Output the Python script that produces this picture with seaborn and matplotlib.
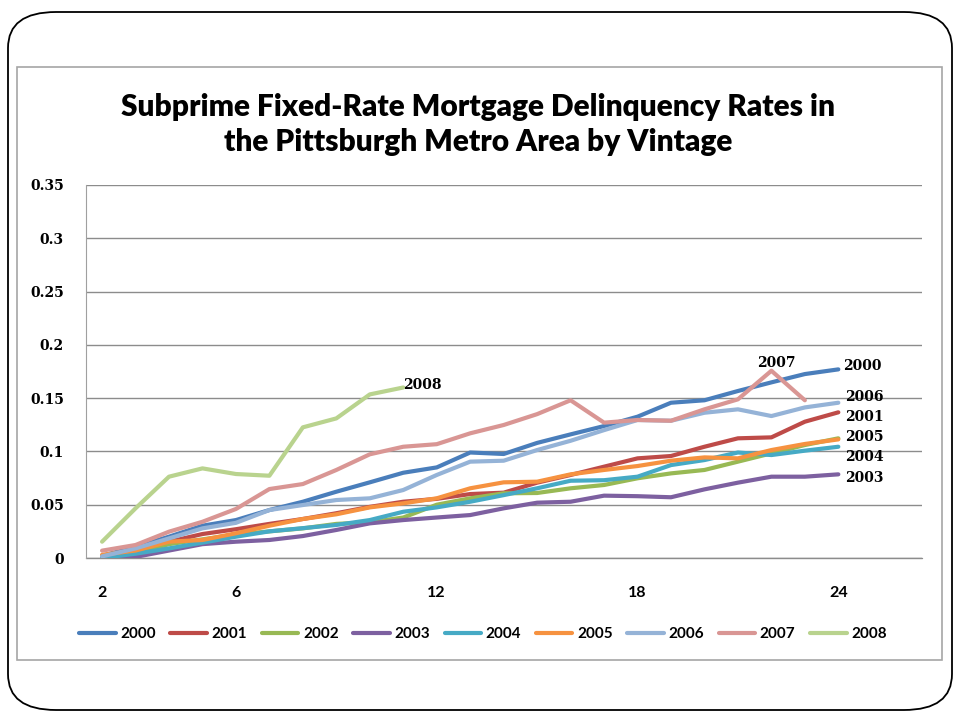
import numpy as np
import pandas as pd
import matplotlib
matplotlib.use("Agg")
import matplotlib.pyplot as plt
import seaborn as sns
from matplotlib.patches import FancyBboxPatch, Rectangle

# Data (months since origination 2..24)
months = list(range(2, 25))
vintages = ["2000", "2001", "2002", "2003", "2004", "2005", "2006", "2007", "2008"]

v2000 = [0.002, 0.0106, 0.020, 0.0303, 0.0356, 0.045, 0.0528, 0.0622, 0.071, 0.080, 0.085,
         0.099, 0.0976, 0.108, 0.116, 0.1238, 0.1326, 0.1457, 0.148, 0.1567, 0.1648, 0.1726, 0.177]
v2001 = [0.001, 0.005, 0.0153, 0.0225, 0.027, 0.032, 0.0366, 0.042, 0.048, 0.0528, 0.0555,
         0.060, 0.0613, 0.0707, 0.0779, 0.0857, 0.0935, 0.0957, 0.1044, 0.1123, 0.1132, 0.1279, 0.1367]
v2002 = [0.001, 0.004, 0.013, 0.0175, 0.022, 0.025, 0.0278, 0.032, 0.0335, 0.038, 0.050,
         0.056, 0.0607, 0.061, 0.0654, 0.0685, 0.0748, 0.0794, 0.0826, 0.0904, 0.0982, 0.106, 0.1123]
v2003 = [0.000, 0.001, 0.007, 0.013, 0.0153, 0.0169, 0.0206, 0.0263, 0.0325, 0.0356, 0.038,
         0.0403, 0.0466, 0.0519, 0.0528, 0.0585, 0.058, 0.057, 0.0644, 0.0707, 0.0763, 0.0763, 0.0785]
v2004 = [0.000, 0.004, 0.009, 0.0144, 0.020, 0.025, 0.028, 0.031, 0.0356, 0.0434, 0.0475,
         0.0528, 0.059, 0.0654, 0.0725, 0.073, 0.0763, 0.0872, 0.0919, 0.099, 0.0966, 0.1007, 0.1044]
v2005 = [0.003, 0.007, 0.0153, 0.0169, 0.0232, 0.0303, 0.0366, 0.041, 0.0475, 0.0513, 0.056,
         0.0654, 0.071, 0.0716, 0.0785, 0.0826, 0.0863, 0.0913, 0.0944, 0.0935, 0.1013, 0.107, 0.1113]
v2006 = [0.0015, 0.009, 0.0184, 0.0278, 0.033, 0.045, 0.0497, 0.0544, 0.056, 0.0638, 0.0779,
         0.0904, 0.0913, 0.1013, 0.110, 0.120, 0.1295, 0.1288, 0.1363, 0.1395, 0.1332, 0.1413, 0.1457]
v2007 = [0.0069, 0.0122, 0.0247, 0.034, 0.046, 0.0647, 0.0694, 0.0826, 0.0973, 0.1044, 0.1068,
         0.117, 0.1248, 0.135, 0.148, 0.127, 0.1295, 0.1288, 0.1395, 0.1489, 0.1757, 0.148, np.nan]
v2008 = [0.0153, 0.0466, 0.0763, 0.0841, 0.0788, 0.0772, 0.1226, 0.131, 0.1535, 0.160,
         np.nan, np.nan, np.nan, np.nan, np.nan, np.nan, np.nan, np.nan, np.nan, np.nan, np.nan, np.nan, np.nan]

series = [v2000, v2001, v2002, v2003, v2004, v2005, v2006, v2007, v2008]
colors = ["#4A7EBB", "#BE4B48", "#98B954", "#7D60A0", "#46AAC5",
          "#F69240", "#95B3D7", "#D99694", "#B9D38E"]

rows = []
for name, vals in zip(vintages, series):
    for m, v in zip(months, vals):
        if not np.isnan(v):
            rows.append({"month": m, "rate": v, "vintage": name})
df = pd.DataFrame(rows)

sns.set_style("white")
plt.rcParams["font.family"] = ["Lato", "DejaVu Sans"]
plt.rcParams["text.color"] = "black"
serif = ["DejaVu Serif"]
sans = ["Lato", "DejaVu Sans"]

fig = plt.figure(figsize=(9.6, 7.2), dpi=100)

# slide frame and chart area frame
fig.patches.append(FancyBboxPatch((8 / 960, 10 / 720), 944 / 960, 698 / 720,
                                  boxstyle="round,pad=0,rounding_size=0.05",
                                  transform=fig.transFigure, fill=False,
                                  edgecolor="black", linewidth=1.3))
fig.patches.append(Rectangle((17 / 960, 60 / 720), 925 / 960, 593 / 720,
                             transform=fig.transFigure, fill=False,
                             edgecolor="#A6A6A6", linewidth=1.2))

ax = fig.add_axes([86 / 960, 162 / 720, 836 / 960, 373 / 720])
ax.axhline(0, color="#8C8C8C", linewidth=1, clip_on=False, zorder=0)
sns.lineplot(data=df, x="month", y="rate", hue="vintage", palette=dict(zip(vintages, colors)),
             linewidth=3, ax=ax, legend=False)

ax.set_xlim(1.52, 26.5)
ax.set_ylim(0, 0.35)
ax.set_xticks([2, 6, 12, 18, 24])
ax.set_xticklabels(["2", "6", "12", "18", "24"], fontweight="bold", fontsize=11.5,
                   family=sans, color="black")
yt = [0, 0.05, 0.1, 0.15, 0.2, 0.25, 0.3, 0.35]
ax.set_yticks(yt)
ax.set_yticklabels(["0", "0.05", "0.1", "0.15", "0.2", "0.25", "0.3", "0.35"],
                   fontweight="bold", fontsize=10, family=serif, color="black")
ax.tick_params(axis="x", length=0, pad=20)
ax.tick_params(axis="y", length=0, pad=16)
ax.yaxis.grid(True, color="#8C8C8C", linewidth=1)
ax.set_axisbelow(True)
for s in ["top", "right", "bottom"]:
    ax.spines[s].set_visible(False)
ax.spines["left"].set_color("#A0A0A0")
ax.set_xlabel("")
ax.set_ylabel("")

# series labels placed next to the lines
labels = {"2008": (11.0, 0.162), "2007": (21.58, 0.183), "2000": (24.15, 0.180),
          "2006": (24.2, 0.151), "2001": (24.2, 0.132), "2005": (24.2, 0.1135),
          "2004": (24.2, 0.0947), "2003": (24.2, 0.075)}
for k, (x, y) in labels.items():
    ax.text(x, y, k, fontsize=10, fontweight="bold", family=serif,
            va="center", ha="left", clip_on=False, color="black")

fig.text(0.498, 0.827, "Subprime Fixed-Rate Mortgage Delinquency Rates in\nthe Pittsburgh Metro Area by Vintage",
         ha="center", va="center", fontsize=21.5, fontweight="heavy", family=sans,
         linespacing=1.3, color="black")

handles = [plt.Line2D([], [], color=c, linewidth=3) for c in colors]
fig.legend(handles, vintages, loc="center", bbox_to_anchor=(0.503, 0.119), ncol=9,
           frameon=False, handlelength=2.4, handletextpad=0.3, columnspacing=0.95,
           prop={"family": sans, "weight": "bold", "size": 11})

fig.savefig("out.png", dpi=100)
